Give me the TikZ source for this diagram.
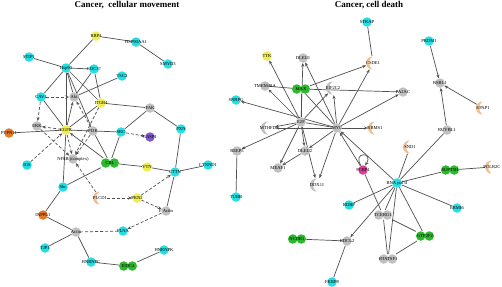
\documentclass[tikz,border=0pt]{standalone}
\usepackage{fontspec}
\setmainfont{Liberation Serif}
\usetikzlibrary{arrows.meta}
\definecolor{cyn}{RGB}{35,222,226}
\definecolor{gry}{RGB}{192,192,192}
\definecolor{ylw}{RGB}{238,238,80}
\definecolor{grn}{RGB}{45,185,45}
\definecolor{org}{RGB}{230,120,35}
\definecolor{prp}{RGB}{130,90,200}
\definecolor{mgt}{RGB}{220,60,150}
\definecolor{pch}{RGB}{240,192,145}
\definecolor{edg}{RGB}{80,80,80}
\pgfdeclarelayer{bg}
\pgfsetlayers{bg,main}
\tikzset{
  nd/.style={circle,minimum size=9.5bp,inner sep=0pt,fill=#1},
  lb/.style={label={[font=\fontsize{4.6}{5}\selectfont,inner sep=0pt,text=black]center:#1}},
  dbl/.style={rectangle,minimum width=18bp,minimum height=9.5bp,inner sep=0pt,
    path picture={\fill[#1] ([xshift=4.75bp]path picture bounding box.west) circle[radius=4.75bp]
      ([xshift=-4.75bp]path picture bounding box.east) circle[radius=4.75bp];}},
  crs/.style={circle,minimum size=14bp,inner sep=0pt,
    path picture={\fill[#1,x=1bp,y=1bp] ([xshift=-0.5bp,yshift=6.5bp]path picture bounding box.center) arc[start angle=90,end angle=270,radius=6.5bp]
      arc[start angle=235,end angle=125,radius=7.93bp] -- cycle;}},
  ln/.style={draw=edg,line width=0.7bp},
  ar/.style={ln,-{Stealth[length=3.8bp,width=3bp]}},
  dsh/.style={ln,dash pattern=on 3bp off 2bp},
  dar/.style={dsh,-{Stealth[length=3.8bp,width=3bp]}},
  ttl/.style={font=\bfseries\fontsize{9}{10}\selectfont,inner sep=0pt}
}
\begin{document}
\begin{tikzpicture}[x=1bp,y=-1bp]
\useasboundingbox (0,0) rectangle (502,286);
\node[ttl] (t1) at (127,5) {Cancer,\ \ cellular movement};
\node[ttl] (t2) at (369,5) {Cancer, cell death};
% ---------- left network
\node[nd=ylw,lb=RBP4] (rbp4) at (96,36) {};
\node[nd=cyn,lb=HSP90AA1] (hsp90aa1) at (136,42) {};
\node[nd=cyn,lb=SMYD3] (smyd3) at (168,64) {};
\node[nd=cyn,lb=STIP1] (stip1) at (29,57) {};
\node[nd=cyn,lb=Hsp90] (hsp90) at (66,68) {};
\node[nd=cyn,lb=CDC37] (cdc37) at (94,69) {};
\node[nd=cyn,lb=TSC2] (tsc2) at (122,76) {};
\node[nd=cyn,lb=CAV1] (cav1) at (41,97) {};
\node[nd=gry,lb=Akt] (akt) at (74,97) {};
\node[nd=ylw,lb=ITGB4] (itgb4) at (101,103) {};
\node[nd=gry,lb=FAK] (fak) at (150,108) {};
\node[nd=gry,lb=ERK] (erk) at (37,126) {};
\node[nd=org,lb=PTPN11] (ptpn11) at (9,133) {};
\node[nd=ylw,lb=EGFR] (egfr) at (66,130) {};
\node[nd=gry,lb=PI3K] (pi3k) at (93,131) {};
\node[nd=cyn,lb=SRC] (src) at (121,132) {};
\node[nd=prp,lb=CASP1] (casp1) at (150,137) {};
\node[nd=cyn,lb=PXN] (pxn) at (181,129) {};
\node[nd=gry,lb=NFkB (complex)] (nfkb) at (73,159) {};
\node[nd=cyn,lb=IGS] (igs) at (27,165) {};
\node[dbl=grn,lb=CBL] (cbl) at (110,163) {};
\node[nd=ylw,lb=VTN] (vtn) at (147,167) {};
\node[nd=cyn,lb=CTTN] (cttn) at (175,172) {};
\node[nd=cyn,lb=CTNND1] (ctnnd1) at (208,165) {};
\node[nd=cyn,lb=Shc] (shc) at (63,187) {};
\node[crs=pch,lb=PLCD1] (plcd) at (100,198) {};
\node[nd=ylw,lb=PKN2] (pkn2) at (137,198) {};
\node[nd=gry,lb=F Actin] (factin) at (166,211) {};
\node[nd=org,lb=INPPL1] (inppl1) at (43,215) {};
\node[nd=gry,lb=Actin] (actin) at (76,232) {};
\node[nd=cyn,lb=FLNA] (flna) at (123,231) {};
\node[nd=cyn,lb=TJP1] (tjp1) at (45,248) {};
\node[nd=cyn,lb=HNRNPC] (hnrnpc) at (91,262) {};
\node[dbl=grn,lb=EIDC4] (eidc4) at (128,266) {};
\node[nd=cyn,lb=HNRNPK] (hnrnpk) at (164,250) {};
% ---------- right network
\node[nd=cyn,lb=SNRPG] (snrpg) at (236,100) {};
\node[nd=gry,lb=REEP5] (reep5) at (237,151) {};
\node[nd=cyn,lb=TUBB] (tubb) at (236,197) {};
\node[nd=cyn,lb=STRAP] (strap) at (367,22) {};
\node[nd=cyn,lb=PRDM1] (prdm1) at (429,41) {};
\node[nd=ylw,lb=TTK] (ttk) at (267,56) {};
\node[nd=gry,lb=DLEU1] (dleu1) at (303,58) {};
\node[crs=pch,lb=CSDE1] (csde1) at (373,63) {};
\node[nd=gry,lb=TMEM48A] (tmem) at (265,86) {};
\node[dbl=grn,lb=MAX] (max) at (301,89) {};
\node[crs=gry,lb=EIF2C2] (eif2c2) at (333,88) {};
\node[nd=gry,lb=PA2AC] (pa2ac) at (403,92) {};
\node[nd=gry,lb=RSRL1] (rsrl1) at (440,83) {};
\node[crs=pch,lb=EPAP1] (epap1) at (483,108) {};
\node[nd=gry,lb=E2F] (e2f) at (301,122) {};
\node[crs=gry,lb=MTHFD] (mthfd) at (268,128) {};
\node[nd=gry,lb=MYC] (myc) at (337,128) {};
\node[crs=pch,lb=RBMS1] (rbms1) at (375,128) {};
\node[nd=gry,lb=RUVBL1] (ruvbl1) at (447,130) {};
\node[nd=gry,lb=DLEU2] (dleu2) at (305,151) {};
\node[crs=pch,lb=SND1] (snd1) at (410,147) {};
\node[nd=gry,lb=MEAF1] (meaf1) at (278,168) {};
\node[nd=mgt,lb=PCBP1] (pcbp1) at (363,170) {};
\node[dbl=grn,lb=SUPT5H] (supt5h) at (450,170) {};
\node[crs=pch,lb=POLR2C] (polr2c) at (492,167) {};
\node[crs=gry,lb=DDX11] (ddx11) at (317,185) {};
\node[nd=cyn,lb=RNA pol II] (rnapol) at (397,183) {};
\node[nd=cyn,lb=RDBP] (rdbp) at (349,205) {};
\node[dbl=gry,lb=TCERG1] (tcerg1) at (383,215) {};
\node[nd=cyn,lb=ERMI6] (ermi6) at (457,208) {};
\node[dbl=grn,lb=NCOR1] (ncor1) at (297,239) {};
\node[nd=gry,lb=HDCL2] (hdcl2) at (347,241) {};
\node[dbl=grn,lb=GTF2F2] (gtf2f2) at (425,236) {};
\node[dbl=gry,lb=HTATSF1] (htatsf1) at (388,259) {};
\node[nd=cyn,lb=FKBP8] (fkbp8) at (332,282) {};
\begin{pgfonlayer}{bg}
% left solid
\foreach \p/\q in {rbp4/hsp90aa1,hsp90aa1/smyd3,rbp4/hsp90,stip1/hsp90,hsp90/cdc37,hsp90/akt,hsp90/cav1,
  hsp90/egfr,hsp90/itgb4,hsp90/pi3k,cdc37/akt,cdc37/itgb4,tsc2/akt,cav1/egfr,ptpn11/egfr,egfr/pi3k,pi3k/src,
  egfr/itgb4,itgb4/fak,fak/src,fak/pxn,pxn/cttn,src/cbl,pi3k/cbl,cbl/vtn,vtn/cttn,cttn/ctnnd1,shc/egfr,
  shc/cbl,shc/inppl1,inppl1/actin,actin/tjp1,actin/hnrnpc,hnrnpc/eidc4,eidc4/hnrnpk,cttn/factin}
  \draw[ln] (\p) -- (\q);
\foreach \p/\q in {egfr/akt,cbl/egfr}
  \draw[ar] (\p) -- (\q);
\foreach \p/\q in {cav1/akt,cav1/erk,egfr/erk,src/casp1,pi3k/akt,pi3k/nfkb,egfr/nfkb,erk/nfkb,igs/egfr,
  plcd/nfkb,itgb4/nfkb,plcd/pkn2,pkn2/factin,pkn2/cttn,factin/flna}
  \draw[dar] (\p) -- (\q);
\draw[dsh] (flna) -- (actin);
% right
\foreach \p/\q in {strap/csde1,rnapol/ruvbl1,max/pa2ac,tmem/max,max/myc,max/e2f,e2f/myc,reep5/tubb,
  pcbp1/tcerg1,rnapol/rdbp,rnapol/tcerg1,rnapol/htatsf1,rnapol/gtf2f2,rnapol/ermi6,rnapol/supt5h,rnapol/snd1,
  tcerg1/htatsf1,tcerg1/gtf2f2,gtf2f2/htatsf1,ncor1/hdcl2,hdcl2/fkbp8,supt5h/polr2c}
  \draw[ln] (\p) -- (\q);
\foreach \p/\q in {prdm1/rsrl1,epap1/rsrl1,ruvbl1/rsrl1,e2f/ttk,e2f/dleu1,myc/dleu1,max/csde1,myc/csde1,
  myc/pa2ac,myc/eif2c2,e2f/eif2c2,e2f/tmem,myc/mthfd,e2f/mthfd,myc/rbms1,myc/dleu2,e2f/dleu2,e2f/meaf1,
  dleu2/meaf1,e2f/ddx11,myc/ddx11,pcbp1/myc,rnapol/myc,myc/snrpg,e2f/reep5,rnapol/hdcl2}
  \draw[ar] (\p) -- (\q);
\draw[ar] (pcbp1.115) .. controls +(-9,-14) and +(9,-14) .. (pcbp1.65);
\end{pgfonlayer}
\end{tikzpicture}
\end{document}
